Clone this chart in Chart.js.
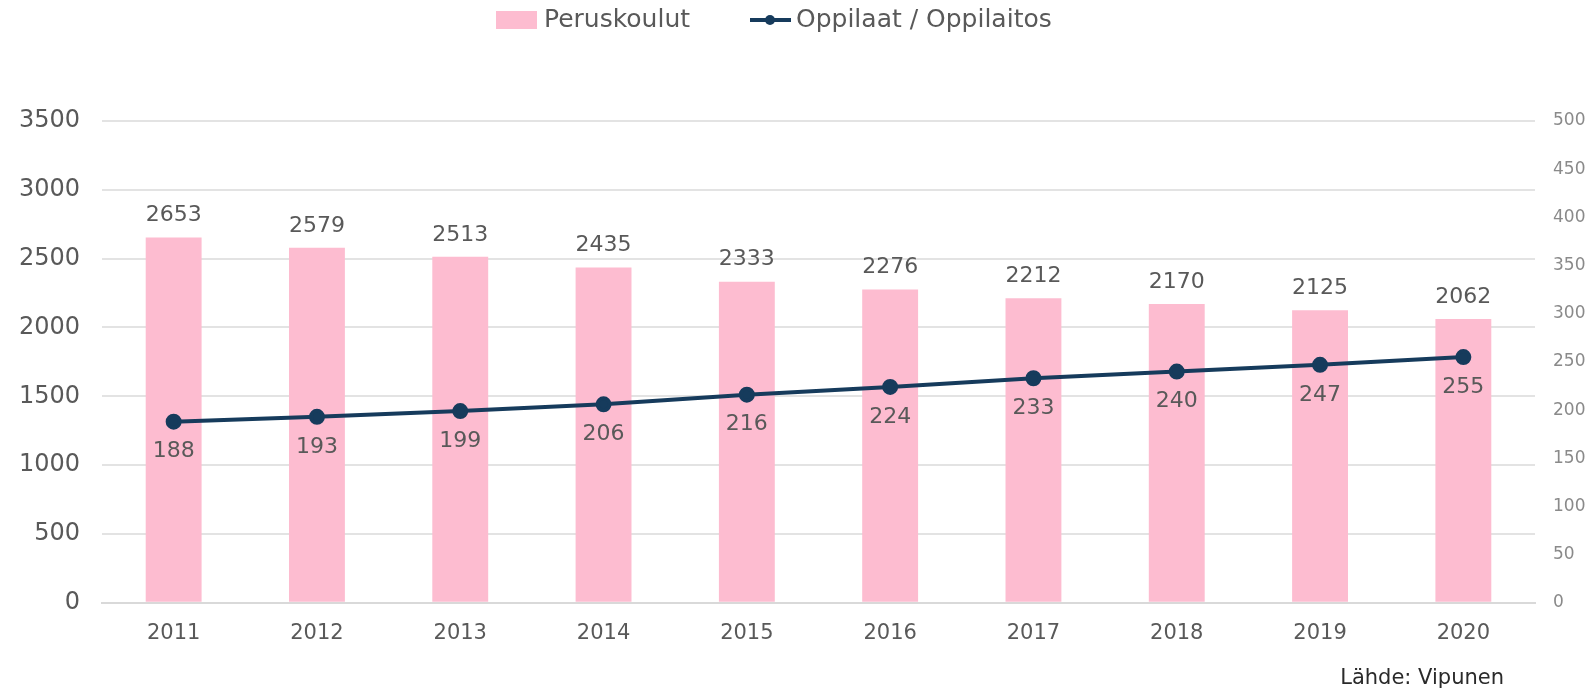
<!DOCTYPE html>
<html>
<head>
<meta charset="utf-8">
<script src="https://cdn.jsdelivr.net/npm/chart.js@4.4.1/dist/chart.umd.min.js"></script>
<style>
  html, body { margin: 0; padding: 0; background: #fff; overflow: hidden; }
  #comboChart { display: block; width: 1593px; height: 694px; }
</style>
</head>
<body>
<canvas id="comboChart" width="1593" height="694"></canvas>
<script>
'use strict';
// data
var years = ['2011', '2012', '2013', '2014', '2015', '2016', '2017', '2018', '2019', '2020'];
var peruskoulut = [2653, 2579, 2513, 2435, 2333, 2276, 2212, 2170, 2125, 2062];
var oppilaatPerOppilaitos = [188, 193, 199, 206, 216, 224, 233, 240, 247, 255];
var sourceText = 'Lähde: Vipunen';

var FONT = "'DejaVu Sans', 'Noto Sans', sans-serif";
var PINK = '#fdbcd0';
var NAVY = '#163b5c';
var TEXT = '#595959';

// draws value labels, the legend and the source line
var extrasPlugin = {
  id: 'extras',
  afterDatasetsDraw: function(chart) {
    var ctx = chart.ctx;
    ctx.save();
    ctx.font = '22px ' + FONT;
    ctx.fillStyle = TEXT;
    ctx.textAlign = 'center';
    ctx.textBaseline = 'middle';
    chart.getDatasetMeta(1).data.forEach(function(bar, i) {
      ctx.fillText(peruskoulut[i], bar.x, bar.y - 22);
    });
    chart.getDatasetMeta(0).data.forEach(function(pt, i) {
      ctx.fillText(oppilaatPerOppilaitos[i], pt.x, pt.y + 30);
    });

    // legend
    var ly = 20;
    ctx.font = '25px ' + FONT;
    ctx.fillStyle = PINK;
    ctx.fillRect(496, ly - 9, 41, 18);
    ctx.fillStyle = TEXT;
    ctx.textAlign = 'left';
    ctx.fillText('Peruskoulut', 544, ly);
    ctx.strokeStyle = NAVY;
    ctx.lineWidth = 4;
    ctx.beginPath();
    ctx.moveTo(750, ly);
    ctx.lineTo(791, ly);
    ctx.stroke();
    ctx.fillStyle = NAVY;
    ctx.beginPath();
    ctx.arc(770, ly, 5, 0, Math.PI * 2);
    ctx.fill();
    ctx.fillStyle = TEXT;
    ctx.fillText('Oppilaat / Oppilaitos', 796, ly);

    // source
    ctx.font = '21px ' + FONT;
    ctx.fillStyle = '#2a2a2a';
    ctx.textAlign = 'right';
    ctx.fillText(sourceText, 1504, 679);
    ctx.restore();
  }
};

function plain(v) { return String(v); }

var ctx = document.getElementById('comboChart').getContext('2d');
var comboChart = new Chart(ctx, {
  type: 'bar',
  data: {
    labels: years,
    datasets: [{
      type: 'line',
      label: 'Oppilaat / Oppilaitos',
      data: oppilaatPerOppilaitos,
      yAxisID: 'y2',
      borderColor: NAVY,
      backgroundColor: NAVY,
      borderWidth: 4,
      pointRadius: 6,
      pointHoverRadius: 6,
      tension: 0,
      order: 0
    }, {
      label: 'Peruskoulut',
      data: peruskoulut,
      yAxisID: 'y',
      backgroundColor: PINK,
      categoryPercentage: 1,
      barPercentage: 0.39,
      order: 1
    }]
  },
  options: {
    responsive: false,
    animation: false,
    devicePixelRatio: 1,
    layout: {
      padding: { top: 121, bottom: 30, left: 0, right: 0 }
    },
    plugins: {
      legend: { display: false },
      tooltip: { enabled: false }
    },
    scales: {
      x: {
        grid: { display: false, drawTicks: false },
        border: { color: '#d9d9d9', width: 2 },
        ticks: { color: TEXT, font: { family: FONT, size: 21 }, padding: 18 }
      },
      y: {
        position: 'left',
        min: 0,
        max: 3500,
        ticks: { stepSize: 500, callback: plain, color: TEXT, font: { family: FONT, size: 24 }, padding: 22 },
        grid: { color: '#e3e3e3', lineWidth: 2, drawTicks: false },
        border: { display: false },
        afterFit: function(scale) { scale.width = 102; }
      },
      y2: {
        position: 'right',
        min: 0,
        max: 500,
        ticks: { stepSize: 50, callback: plain, color: '#8a8a8a', font: { family: FONT, size: 17 }, padding: 18 },
        grid: { display: false, drawTicks: false },
        border: { display: false },
        afterFit: function(scale) { scale.width = 58; }
      }
    }
  },
  plugins: [extrasPlugin]
});
</script>
</body>
</html>
